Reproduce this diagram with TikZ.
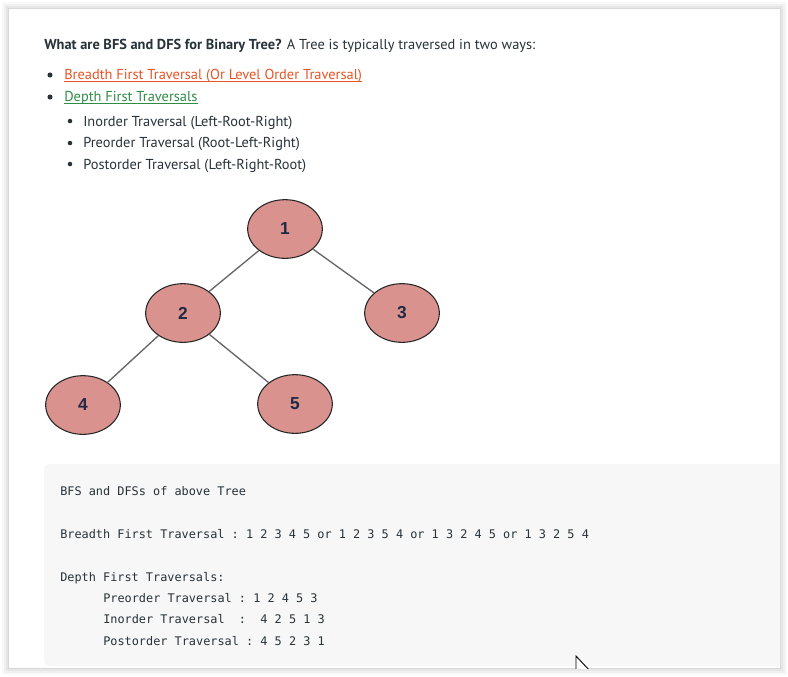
\documentclass[tikz,border=0pt]{standalone}
\usepackage{fontspec}
\setmainfont{PT Sans}
\setmonofont{DejaVu Sans Mono}
\newfontfamily\digitfont{Liberation Sans}
\usetikzlibrary{shapes.geometric}

\definecolor{textdark}{HTML}{273239}
\definecolor{linkorange}{HTML}{EA5425}
\definecolor{linkgreen}{HTML}{2F8D46}
\definecolor{nodepink}{HTML}{DA928E}
\definecolor{numblue}{HTML}{1F2A44}
\definecolor{edgegray}{HTML}{666666}
\definecolor{codebg}{HTML}{F7F7F7}

\begin{document}
\begin{tikzpicture}[x=0.75pt,y=-0.75pt,
	treenode/.style={ellipse, draw=black!85, line width=0.8pt, fill=nodepink, minimum width=56pt, minimum height=44pt, inner sep=0pt, text=numblue, font=\digitfont\bfseries\fontsize{13}{13}\selectfont},
	branch/.style={draw=edgegray, line width=1pt},
	bodytext/.style={anchor=base west, inner sep=0pt, text=textdark, font=\fontsize{10.8}{12}\selectfont},
	codetext/.style={anchor=base west, inner sep=0pt, text=textdark, font=\ttfamily\fontsize{8.9}{10}\selectfont}]
	\useasboundingbox (0,0) rectangle (788,676);

	% card shadow
	\draw[black, opacity=0.025, line width=10pt] (9,9) rectangle (780,668);
	\draw[black, opacity=0.035, line width=7pt] (9,9) rectangle (780,668);
	\draw[black, opacity=0.045, line width=4pt] (9,9) rectangle (780,668);
	\draw[black, opacity=0.06, line width=1.5pt] (9,9) rectangle (780,668);
	\fill[white] (9,9) rectangle (780,668);

	% code box and cursor
	\begin{scope}
		\clip (9,9) rectangle (780,668);
		\fill[codebg, rounded corners=4pt] (44,464) rectangle (800,666);
		\filldraw[fill=white, draw=black, line width=0.7pt] (576,656) -- (576,675) -- (580,671) -- (590,671) -- cycle;
	\end{scope}

	% heading
	\node[bodytext] (head) at (44,49) {\textbf{What are BFS and DFS for Binary Tree?} A Tree is typically traversed in two ways:};

	% bullets
	\fill[textdark] (50,75) circle[radius=1.9pt];
	\fill[textdark] (50,97) circle[radius=1.9pt];
	\fill[textdark] (70,121) circle[radius=1.7pt];
	\fill[textdark] (70,143) circle[radius=1.7pt];
	\fill[textdark] (70,164) circle[radius=1.7pt];
	\node[bodytext, text=linkorange] (bfslink) at (64,79) {Breadth First Traversal (Or Level Order Traversal)};
	\node[bodytext, text=linkgreen] (dfslink) at (64,101) {Depth First Traversals};
	\draw[linkorange, line width=0.6pt] ([yshift=-1.6pt]bfslink.base west) -- ([yshift=-1.6pt]bfslink.base east);
	\draw[linkgreen, line width=0.6pt] ([yshift=-1.6pt]dfslink.base west) -- ([yshift=-1.6pt]dfslink.base east);
	\node[bodytext] (inorder) at (83,126) {Inorder Traversal (Left-Root-Right)};
	\node[bodytext] (preorder) at (83,147) {Preorder Traversal (Root-Left-Right)};
	\node[bodytext] (postorder) at (83,169) {Postorder Traversal (Left-Right-Root)};

	% tree
	\node[treenode] (n1) at (285,229) {1};
	\node[treenode] (n2) at (183,313) {2};
	\node[treenode] (n3) at (402,313) {3};
	\node[treenode] (n4) at (83,405) {4};
	\node[treenode] (n5) at (295,404) {5};
	\draw[branch] (n1) -- (n2);
	\draw[branch] (n1) -- (n3);
	\draw[branch] (n2) -- (n4);
	\draw[branch] (n2) -- (n5);

	% code text
	\node[codetext] (c1) at (60,495) {BFS and DFSs of above Tree};
	\node[codetext] (c2) at (60,538) {Breadth First Traversal : 1 2 3 4 5 or 1 2 3 5 4 or 1 3 2 4 5 or 1 3 2 5 4};
	\node[codetext] (c3) at (60,581) {Depth First Traversals:};
	\node[codetext] (c4) at (103,602) {Preorder Traversal : 1 2 4 5 3};
	\node[codetext] (c5) at (103,623) {Inorder Traversal\ \ :\ \ 4 2 5 1 3};
	\node[codetext] (c6) at (103,645) {Postorder Traversal : 4 5 2 3 1};

\end{tikzpicture}
\end{document}
